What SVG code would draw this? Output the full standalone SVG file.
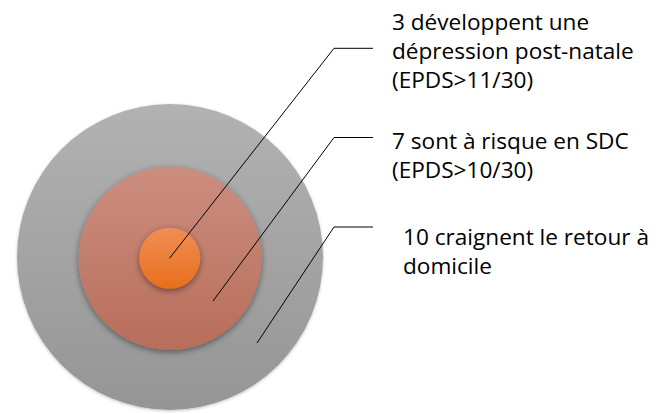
<svg xmlns="http://www.w3.org/2000/svg" width="658" height="414" viewBox="0 0 658 414">
  <defs>
    <linearGradient id="gOuter" x1="0" y1="0" x2="0" y2="1">
      <stop offset="0" stop-color="#b2b2b2"/>
      <stop offset="1" stop-color="#959595"/>
    </linearGradient>
    <linearGradient id="gMid" x1="0" y1="0" x2="0" y2="1">
      <stop offset="0" stop-color="#cc8e7f"/>
      <stop offset="1" stop-color="#b76d5a"/>
    </linearGradient>
    <linearGradient id="gInner" x1="0" y1="0" x2="0" y2="1">
      <stop offset="0" stop-color="#f08e55"/>
      <stop offset="1" stop-color="#e76f1c"/>
    </linearGradient>
    <filter id="shadow" x="-20%" y="-20%" width="140%" height="140%">
      <feDropShadow dx="0" dy="2" stdDeviation="3" flood-color="#000" flood-opacity="0.45"/>
    </filter>
    <filter id="soft" x="-10%" y="-10%" width="120%" height="120%">
      <feDropShadow dx="0" dy="1" stdDeviation="1.5" flood-color="#000" flood-opacity="0.25"/>
    </filter>
  </defs>
  <style>
    .lbl { font-family: "Open Sans", "Liberation Sans", sans-serif; font-size: 22.6px; fill: #000; }
    .lead { fill: none; stroke: #000; stroke-width: 1; }
  </style>
  <rect width="658" height="414" fill="#fff"/>
  <g id="outer">
    <circle cx="170" cy="257" r="153" fill="url(#gOuter)" filter="url(#soft)"/>
  </g>
  <g id="middle">
    <circle cx="170" cy="258.5" r="91.5" fill="url(#gMid)" filter="url(#shadow)"/>
  </g>
  <g id="inner">
    <circle cx="169.7" cy="258.2" r="30.5" fill="url(#gInner)" filter="url(#shadow)"/>
  </g>
  <g id="connectors">
    <polyline class="lead" points="169.5,258.3 334,48.3 373,48.3"/>
    <polyline class="lead" points="213,301 334,137.5 373,137.5"/>
    <polyline class="lead" points="257,343 334,227 373,227"/>
  </g>
  <g id="label1">
    <text class="lbl" x="392" y="30">3 développent une</text>
    <text class="lbl" x="392" y="59">dépression post-natale</text>
    <text class="lbl" x="392" y="88">(EPDS&gt;11/30)</text>
  </g>
  <g id="label2">
    <text class="lbl" x="392" y="149">7 sont à risque en SDC</text>
    <text class="lbl" x="392" y="178">(EPDS&gt;10/30)</text>
  </g>
  <g id="label3">
    <text class="lbl" x="403" y="245">10 craignent le retour à</text>
    <text class="lbl" x="403" y="274">domicile</text>
  </g>
</svg>
